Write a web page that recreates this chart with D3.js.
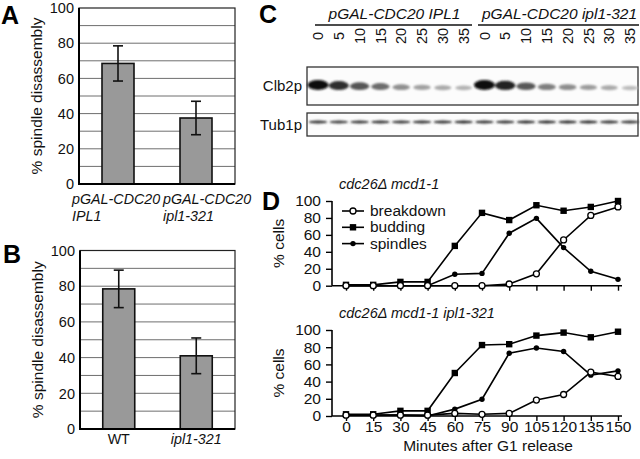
<!DOCTYPE html>
<html><head><meta charset="utf-8">
<script src="https://cdn.jsdelivr.net/npm/d3@7/dist/d3.min.js"></script>
<style>
body{margin:0;background:#fff}
svg{display:block}
text{font-family:"Liberation Sans",Arial,Helvetica,sans-serif;fill:#111}
</style>
</head><body>
<svg id="fig" width="640" height="459"></svg>
<script>
// ---------------- DATA ----------------
const catA = ["pGAL-CDC20|IPL1", "pGAL-CDC20|ipl1-321"];
const valA = [68.5, 37.5];
const errA = [10, 9.5];
const catB = ["WT", "ipl1-321"];
const valB = [78.5, 41];
const errB = [10.5, 10];
const barTicks = [0, 20, 40, 60, 80, 100];

const blotGroups = ["pGAL-CDC20 IPL1", "pGAL-CDC20 ipl1-321"];
const laneTimes = [0, 5, 10, 15, 20, 25, 30, 35];
const clb2IPL1 = [1.0, 0.86, 0.7, 0.6, 0.45, 0.38, 0.34, 0.3];
const clb2ipl1 = [1.0, 0.9, 0.68, 0.52, 0.46, 0.4, 0.34, 0.26];
const tub1IPL1 = [0.85, 0.8, 0.82, 0.85, 0.82, 0.85, 0.85, 0.88];
const tub1ipl1 = [0.85, 0.85, 0.88, 0.88, 0.88, 0.88, 0.85, 0.82];

const minutes = [0, 15, 30, 45, 60, 75, 90, 105, 120, 135, 150];
const pctTicks = [0, 20, 40, 60, 80, 100];
const breakdown1 = [0, 0, 0, 0, 0, 0, 2, 14, 54, 83, 93];
const budding1   = [1, 1, 4.5, 4.5, 47, 86, 77.5, 95, 88.5, 93, 100];
const spindles1  = [0, 0, 0, 0, 13.5, 14.5, 62, 79.5, 45, 17, 7.5];
const breakdown2 = [1, 1, 1, 1, 3, 2, 3, 18.5, 25, 51, 46];
const budding2   = [2, 2, 6, 6, 50, 82.5, 83.5, 93.5, 97, 91.5, 98];
const spindles2  = [1, 1, 1, 0, 8, 19.5, 73, 79, 75, 47.5, 52.5];
const seriesNames = ["breakdown", "budding", "spindles"];

// ---------------- DRAW ----------------
const svg = d3.select("#fig");
const FONT = 14.5;

function panelLetter(t, x, y) {
  svg.append("text").attr("x", x).attr("y", y).text(t)
    .attr("font-size", 25).attr("font-weight", "bold").style("fill", "#000");
}

function barPanel(cats, vals, errs, box, labelFn) {
  const g = svg.append("g");
  const x = d3.scalePoint().domain(cats).range([box.l, box.r]).padding(0.5);
  const y = d3.scaleLinear().domain([0, 100]).range([box.b, box.t]);
  g.selectAll("line.grid").data(d3.range(10, 100, 10)).join("line")
    .attr("x1", box.l).attr("x2", box.r).attr("y1", d => y(d)).attr("y2", d => y(d))
    .attr("stroke", "#6e6e6e").attr("stroke-width", 1);
  g.append("rect").attr("x", box.l).attr("y", y(100)).attr("width", box.r - box.l)
    .attr("height", y(0) - y(100)).attr("fill", "none").attr("stroke", "#222").attr("stroke-width", 1.2);
  const bw = 32;
  g.selectAll("rect.bar").data(vals).join("rect")
    .attr("x", (d, i) => x(cats[i]) - bw / 2).attr("width", bw)
    .attr("y", d => y(d)).attr("height", d => y(0) - y(d))
    .attr("fill", "#999").attr("stroke", "#111").attr("stroke-width", 1.6);
  vals.forEach((v, i) => {
    const cx = x(cats[i]);
    g.append("line").attr("x1", cx).attr("x2", cx).attr("y1", y(v + errs[i])).attr("y2", y(v - errs[i]))
      .attr("stroke", "#111").attr("stroke-width", 1.6);
    [v + errs[i], v - errs[i]].forEach(e => g.append("line").attr("x1", cx - 5).attr("x2", cx + 5)
      .attr("y1", y(e)).attr("y2", y(e)).attr("stroke", "#111").attr("stroke-width", 1.6));
  });
  g.append("line").attr("x1", box.l).attr("x2", box.l).attr("y1", y(0) + 1).attr("y2", y(100))
    .attr("stroke", "#000").attr("stroke-width", 2);
  g.append("line").attr("x1", box.l).attr("x2", box.r).attr("y1", y(0)).attr("y2", y(0))
    .attr("stroke", "#000").attr("stroke-width", 2);
  g.selectAll("text.yt").data(barTicks).join("text")
    .attr("x", box.l - 5).attr("y", d => y(d)).attr("dy", "0.36em")
    .attr("text-anchor", "end").attr("font-size", FONT).text(d => d);
  g.append("text").attr("transform", `translate(${box.l - 37},${(y(0) + y(100)) / 2}) rotate(-90)`)
    .attr("text-anchor", "middle").attr("font-size", 15.5).text("% spindle disassembly");
  labelFn(g, x, y);
}

// Panel A
panelLetter("A", 1, 24);
barPanel(catA, valA, errA, {l: 79, r: 235, t: 8, b: 184}, (g, x, y) => {
  const starts = [72, 163];
  catA.forEach((c, i) => {
    const parts = c.split("|");
    parts.forEach((p, j) => g.append("text").attr("x", starts[i]).attr("y", 204 + j * 16.5)
      .attr("font-size", 14.3).attr("font-style", "italic").text(p));
  });
});

// Panel B
panelLetter("B", 3, 263);
barPanel(catB, valB, errB, {l: 80, r: 235, t: 250.5, b: 429}, (g, x, y) => {
  catB.forEach((c, i) => g.append("text").attr("x", x(c)).attr("y", 444)
    .attr("text-anchor", "middle").attr("font-size", 14.3)
    .attr("font-style", i === 0 ? "normal" : "italic").text(c));
});

// Panel C (blot)
panelLetter("C", 259, 23);
const defs = svg.append("defs");
defs.append("filter").attr("id", "blur").attr("x", "-30%").attr("y", "-100%").attr("width", "160%").attr("height", "300%")
  .append("feGaussianBlur").attr("stdDeviation", 1.2);
defs.append("filter").attr("id", "blur2").attr("x", "-30%").attr("y", "-150%").attr("width", "160%").attr("height", "400%")
  .append("feGaussianBlur").attr("stdDeviation", 0.8);
const laneIdx = d3.range(16);
const lx = d3.scalePoint().domain(laneIdx).range([318, 630]);
const grpSpan = [[315, 472], [478, 639]];
blotGroups.forEach((name, gi) => {
  svg.append("text").attr("x", (grpSpan[gi][0] + grpSpan[gi][1]) / 2 + 1).attr("y", 19)
    .attr("text-anchor", "middle").attr("font-size", 15.5).attr("font-style", "italic").text(name);
  svg.append("line").attr("x1", grpSpan[gi][0]).attr("x2", grpSpan[gi][1]).attr("y1", 25).attr("y2", 25)
    .attr("stroke", "#111").attr("stroke-width", 1.5);
});
const allTimes = laneTimes.concat(laneTimes);
svg.selectAll("text.lane").data(laneIdx).join("text")
  .attr("transform", d => `translate(${lx(d)},36) rotate(-90)`)
  .attr("text-anchor", "middle").attr("dy", "0.36em").attr("font-size", 14.5).text(d => allTimes[d]);

function blot(label, top, bottom, bandY, intens, kind) {
  svg.append("rect").attr("x", 307).attr("y", top).attr("width", 331).attr("height", bottom - top)
    .attr("fill", "#fcfcfc").attr("stroke", "#333").attr("stroke-width", 1.3);
  svg.append("text").attr("x", 302).attr("y", (top + bottom) / 2).attr("dy", "0.36em")
    .attr("text-anchor", "end").attr("font-size", 15).text(label);
  const g = svg.append("g").attr("filter", kind === "clb" ? "url(#blur)" : "url(#blur2)");
  const shade = d => { const c = Math.round(250 * (1 - d * 0.95)); return d3.rgb(c, c, c); };
  g.selectAll("ellipse").data(intens).join("ellipse")
    .attr("cx", (d, i) => lx(i)).attr("cy", d => kind === "clb" ? bandY + (1 - d) * 4 : bandY)
    .attr("rx", d => kind === "clb" ? 7.5 + d * 3 : 9.5)
    .attr("ry", d => kind === "clb" ? 1.2 + d * 3.8 : 1.5)
    .attr("fill", shade);
}
blot("Clb2p", 67, 105, 85, clb2IPL1.concat(clb2ipl1), "clb");
blot("Tub1p", 113, 136, 122, tub1IPL1.concat(tub1ipl1), "tub");

// Panel D
panelLetter("D", 262, 210);
function linePanel(title, top, bottom, data, showLegend, showXLabels) {
  const g = svg.append("g");
  const axL = 332;
  const x = d3.scaleLinear().domain([0, 150]).range([346, 618]);
  const y = d3.scaleLinear().domain([0, 100]).range([bottom, top]);
  g.append("text").attr("x", 339).attr("y", top - 12).attr("font-size", 14.5)
    .attr("font-style", "italic").text(title);
  const yAxis = d3.axisLeft(y).tickValues(pctTicks).tickSize(6).tickPadding(5);
  const ya = g.append("g").attr("transform", `translate(${axL},0)`).call(yAxis);
  const xAxis = d3.axisBottom(x).tickValues(minutes).tickSize(5).tickPadding(0)
    .tickFormat(showXLabels ? d3.format("d") : () => "");
  const xa = g.append("g").attr("transform", `translate(0,${bottom})`).call(xAxis);
  [ya, xa].forEach(a => {
    a.select(".domain").attr("stroke", "#000").attr("stroke-width", 1.6);
    a.selectAll(".tick line").attr("stroke", "#000").attr("stroke-width", 1.4);
    a.selectAll(".tick text").attr("font-size", 15.5).style("font-family", '"Liberation Sans",Arial,sans-serif').style("fill", "#111");
  });
  xa.select(".domain").attr("d", `M${axL},0H622`);
  ya.select(".domain").attr("d", `M0,${bottom}V${top}`);
  if (showXLabels) xa.selectAll(".tick text").attr("dy", "0.7em");
  g.append("text").attr("transform", `translate(284,${(top + bottom) / 2}) rotate(-90)`)
    .attr("text-anchor", "middle").attr("font-size", 15.5).text("% cells");
  const line = d3.line().x((d, i) => x(minutes[i])).y(d => y(d));
  const order = [1, 2, 0];
  order.forEach(si => {
    g.append("path").attr("d", line(data[si])).attr("fill", "none").attr("stroke", "#000").attr("stroke-width", 1.6);
  });
  order.forEach(si => {
    drawMarkers(g, seriesNames[si], data[si].map((v, i) => [x(minutes[i]), y(v)]));
  });
  if (showLegend) {
    seriesNames.forEach((n, i) => {
      const yy = top + 10 + i * 16.3;
      g.append("line").attr("x1", 342).attr("x2", 364).attr("y1", yy).attr("y2", yy)
        .attr("stroke", "#000").attr("stroke-width", 1.6);
      drawMarkers(g, n, [[353, yy]]);
      g.append("text").attr("x", 370).attr("y", yy).attr("dy", "0.33em").attr("font-size", 15.5).text(n);
    });
  }
  return {x, y};
}
function drawMarkers(g, name, pts) {
  pts.forEach(([px, py]) => {
    if (name === "breakdown") g.append("circle").attr("cx", px).attr("cy", py).attr("r", 3)
      .attr("fill", "#fff").attr("stroke", "#000").attr("stroke-width", 1.3);
    else if (name === "budding") g.append("rect").attr("x", px - 3.2).attr("y", py - 3.2)
      .attr("width", 6.4).attr("height", 6.4).attr("fill", "#000");
    else g.append("circle").attr("cx", px).attr("cy", py).attr("r", 2.7).attr("fill", "#000");
  });
}
linePanel("cdc26\u0394 mcd1-1", 201, 285.7, [breakdown1, budding1, spindles1], true, false);
linePanel("cdc26\u0394 mcd1-1 ipl1-321", 330, 416, [breakdown2, budding2, spindles2], false, true);
svg.append("text").attr("x", 488).attr("y", 451).attr("text-anchor", "middle").attr("font-size", 15.5)
  .text("Minutes after G1 release");
</script>
</body></html>
